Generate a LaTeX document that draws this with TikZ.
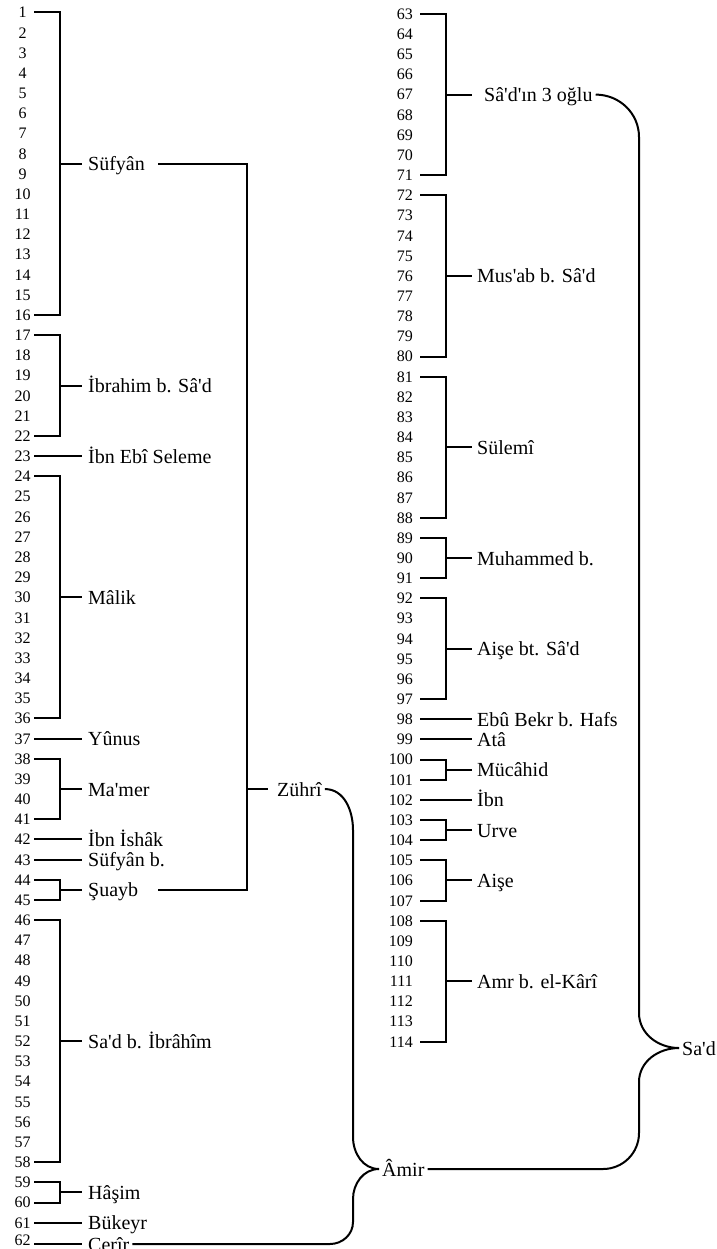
\documentclass[tikz,border=0pt]{standalone}
\usepackage{fontspec}
\setmainfont{Liberation Serif}
\usetikzlibrary{calc}
\newcommand\ap{\textquotesingle}
\newcommand\bgrp[7]{%
  \draw[ln] (r#1) -- (r#1 -| #5) -- (r#2 -| #5) -- (r#2);
  \coordinate (m#3) at ($(r#1)!0.5!(r#2)$);
  \draw[ln] (m#3 -| #5) -- (m#3 -| #6);
  \node[lab] (#3) at ($(m#3 -| #7)+(0,7)$) {#4};
}
\newcommand\sgrp[5]{%
  \draw[ln] (r#1) -- (r#1 -| #4);
  \coordinate (m#2) at (r#1);
  \node[lab] (#2) at ($(r#1 -| #5)+(0,7)$) {#3};
}
\begin{document}
\begin{tikzpicture}[x=1pt,y=-1pt,
  ln/.style={line width=2pt},
  numL/.style={anchor=base,inner sep=0pt,font=\fontsize{16}{18}\selectfont},
  numR/.style={anchor=base east,inner sep=0pt,font=\fontsize{16}{18}\selectfont},
  lab/.style={anchor=base west,inner xsep=3pt,inner ysep=1pt,font=\fontsize{20}{24}\selectfont}]
\useasboundingbox (0,0) rectangle (716,1249);
\coordinate (bL) at (60,0);
\coordinate (sL) at (82,0);
\coordinate (tL) at (85,0);
\coordinate (bR) at (446,0);
\coordinate (sR) at (472,0);
\coordinate (tR) at (474,0);
\coordinate (tS) at (481,0);
\coordinate (zx) at (158,0);
\coordinate (vx) at (247,0);
% numbers
\foreach \i in {1,...,61}{
  \pgfmathsetmacro\yy{12.5+(\i-1)*20.17}
  \node[numL] (n\i) at (22.5,\yy+5.4) {\i};
  \coordinate (r\i) at (34,\yy);
}
\node[numL] (n62) at (22.5,1245.5) {62};
\coordinate (r62) at (34,1244);
\foreach \i in {63,...,114}{
  \pgfmathsetmacro\yy{14+(\i-63)*20.15}
  \node[numR] (n\i) at (413,\yy+5.4) {\i};
  \coordinate (r\i) at (420,\yy);
}
% left column
\bgrp{1}{16}{suf}{Süfyân}{bL}{sL}{tL}
\bgrp{17}{22}{ibr}{İbrahim b. Sâ\ap d}{bL}{sL}{tL}
\sgrp{23}{ibnebi}{İbn Ebî Seleme}{sL}{tL}
\bgrp{24}{36}{malik}{Mâlik}{bL}{sL}{tL}
\sgrp{37}{yunus}{Yûnus}{sL}{tL}
\bgrp{38}{41}{mamer}{Ma\ap mer}{bL}{sL}{tL}
\sgrp{42}{ibnishak}{İbn İshâk}{sL}{tL}
\sgrp{43}{sufb}{Süfyân b.}{sL}{tL}
\bgrp{44}{45}{suayb}{Şuayb}{bL}{sL}{tL}
\bgrp{46}{58}{sadib}{Sa\ap d b. İbrâhîm}{bL}{sL}{tL}
\bgrp{59}{60}{hasim}{Hâşim}{bL}{sL}{tL}
\sgrp{61}{bukeyr}{Bükeyr}{sL}{tL}
\sgrp{62}{cerir}{Cerîr}{sL}{tL}
% right column
\bgrp{63}{71}{s3}{}{bR}{sR}{tR}
\node[lab] (s3t) at ($(ms3 -| tS)+(0,7)$) {Sâ\ap d\ap ın 3 oğlu};
\bgrp{72}{80}{musab}{Mus\ap ab b. Sâ\ap d}{bR}{sR}{tR}
\bgrp{81}{88}{sulemi}{Sülemî}{bR}{sR}{tR}
\bgrp{89}{91}{muhammed}{Muhammed b.}{bR}{sR}{tR}
\bgrp{92}{97}{aiseb}{Aişe bt. Sâ\ap d}{bR}{sR}{tR}
\sgrp{98}{ebubekr}{Ebû Bekr b. Hafs}{sR}{tR}
\sgrp{99}{ata}{Atâ}{sR}{tR}
\bgrp{100}{101}{mucahid}{Mücâhid}{bR}{sR}{tR}
\sgrp{102}{ibn}{İbn}{sR}{tR}
\bgrp{103}{104}{urve}{Urve}{bR}{sR}{tR}
\bgrp{105}{107}{aise}{Aişe}{bR}{sR}{tR}
\bgrp{108}{114}{amr}{Amr b. el-Kârî}{bR}{sR}{tR}
% Zühri bracket
\draw[ln] (msuf -| zx) -- (msuf -| vx) -- (msuayb -| vx) -- (msuayb -| zx);
\coordinate (mzuhri) at (mmamer -| vx);
\draw[ln] (mzuhri) -- ++(21,0);
\node[lab] (zuhri) at ($(mzuhri)+(27,7)$) {Zührî};
% Amir and Sa'd
\coordinate (mamir) at (0,1169);
\coordinate (msad) at (0,1048);
\node[lab] (amir) at (379,1176) {Âmir};
\node[lab] (sad) at (679,1055) {Sa\ap d};
% brace Zühri - Cerir -> Amir
\draw[ln] (zuhri.east |- mzuhri) to[out=0,in=90] (353,830) -- (353,1137)
  to[out=-90,in=180] (amir.west |- mamir);
\draw[ln] (amir.west |- mamir) to[out=180,in=90] (353,1199) -- (353,1222)
  to[out=-90,in=0] (330,1244) -- (cerir.east |- mcerir);
% brace S3 - Amir -> Sa'd
\draw[ln] (s3t.east |- ms3) to[out=0,in=90] (639,137) -- (639,1013)
  to[out=-90,in=180] (sad.west |- msad);
\draw[ln] (sad.west |- msad) to[out=180,in=90] (639,1082) -- (639,1133)
  to[out=-90,in=0] (603,1169) -- (amir.east |- mamir);
\end{tikzpicture}
\end{document}
